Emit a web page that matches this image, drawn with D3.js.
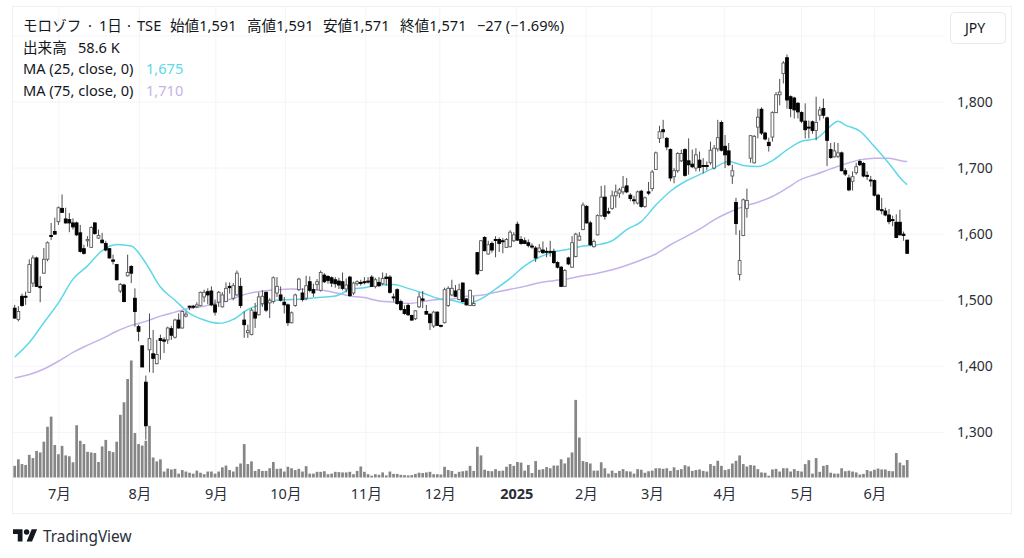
<!DOCTYPE html>
<html><head><meta charset="utf-8">
<script src="https://cdn.jsdelivr.net/npm/d3@7/dist/d3.min.js"></script>
<style>
html,body{margin:0;padding:0;background:#fff;overflow:hidden}
svg{display:block}
text{font-family:"Noto Sans","Noto Sans CJK JP",sans-serif;fill:#131722}
</style></head><body><svg id="c" width="1024" height="558"></svg>
<script>
const open=[1488,1471,1506,1506,1512,1526,1564,1521,1541,1562,1598,1604,1619,1639,1623,1622,1617,1617,1602,1578,1590,1580,1617,1594,1591,1586,1578,1561,1554,1514,1523,1537,1551,1503,1460,1431,1376,1425,1419,1404,1442,1440,1440,1457,1444,1470,1458,1476,1491,1491,1490,1492,1505,1513,1514,1493,1497,1490,1498,1521,1503,1508,1521,1470,1451,1448,1482,1478,1495,1512,1496,1498,1511,1508,1497,1493,1466,1492,1516,1511,1503,1528,1516,1524,1515,1538,1536,1534,1531,1529,1528,1517,1535,1511,1525,1527,1528,1529,1535,1521,1527,1525,1535,1535,1505,1516,1498,1486,1492,1477,1472,1490,1502,1483,1479,1461,1482,1462,1466,1492,1508,1514,1501,1526,1502,1492,1492,1572,1545,1595,1570,1586,1592,1592,1590,1580,1581,1590,1615,1592,1590,1587,1582,1579,1574,1576,1574,1574,1574,1557,1550,1521,1564,1550,1566,1591,1607,1642,1617,1581,1599,1628,1656,1634,1639,1658,1662,1664,1673,1659,1652,1647,1665,1642,1664,1669,1698,1745,1758,1745,1728,1687,1696,1711,1728,1711,1706,1700,1712,1704,1704,1708,1700,1729,1769,1733,1726,1688,1648,1539,1598,1639,1715,1708,1762,1789,1753,1739,1747,1784,1811,1843,1867,1808,1806,1798,1784,1771,1762,1770,1757,1780,1790,1776,1728,1717,1718,1723,1696,1685,1680,1693,1710,1707,1689,1682,1681,1659,1637,1635,1629,1622,1618,1618,1600,1591];
const high=[1493,1491,1510,1513,1562,1568,1566,1536,1579,1589,1617,1625,1642,1660,1640,1632,1624,1619,1614,1584,1597,1612,1618,1607,1602,1590,1579,1569,1555,1526,1525,1569,1553,1518,1463,1432,1386,1480,1455,1440,1448,1444,1460,1461,1472,1480,1484,1483,1492,1493,1497,1513,1516,1518,1521,1501,1514,1512,1527,1527,1526,1545,1534,1483,1463,1488,1496,1512,1515,1513,1503,1536,1535,1521,1505,1495,1483,1510,1534,1518,1537,1536,1525,1532,1545,1541,1538,1536,1535,1534,1542,1533,1537,1528,1530,1531,1535,1535,1538,1534,1535,1542,1541,1538,1510,1518,1501,1492,1495,1478,1485,1512,1514,1493,1480,1484,1483,1463,1519,1521,1531,1523,1525,1527,1503,1516,1506,1573,1591,1597,1590,1589,1597,1595,1594,1594,1606,1603,1619,1597,1595,1592,1586,1582,1585,1589,1580,1590,1578,1559,1552,1547,1566,1597,1602,1603,1648,1644,1620,1592,1630,1673,1674,1640,1666,1675,1670,1688,1685,1662,1658,1666,1667,1657,1679,1697,1725,1764,1773,1747,1730,1700,1724,1728,1730,1745,1728,1730,1725,1715,1710,1740,1735,1773,1772,1750,1738,1705,1655,1606,1654,1669,1750,1750,1790,1792,1755,1746,1786,1815,1835,1862,1872,1810,1808,1800,1786,1798,1772,1772,1808,1793,1805,1778,1738,1739,1738,1725,1700,1690,1695,1708,1713,1709,1695,1688,1683,1661,1655,1640,1638,1628,1630,1637,1604,1591];
const low=[1472,1468,1490,1493,1511,1520,1520,1497,1540,1559,1591,1599,1614,1632,1616,1603,1607,1597,1572,1569,1581,1580,1599,1593,1586,1574,1563,1554,1530,1511,1497,1536,1526,1460,1438,1399,1289,1391,1390,1403,1410,1420,1434,1440,1442,1457,1457,1474,1485,1487,1488,1491,1497,1494,1491,1477,1490,1489,1497,1510,1500,1507,1488,1443,1443,1447,1458,1477,1490,1482,1473,1495,1505,1498,1480,1461,1465,1490,1514,1498,1500,1512,1505,1515,1513,1526,1525,1520,1519,1517,1515,1512,1505,1508,1522,1522,1524,1525,1520,1518,1520,1523,1522,1510,1498,1493,1484,1478,1476,1469,1470,1488,1488,1478,1455,1458,1461,1459,1465,1490,1506,1505,1500,1497,1492,1491,1491,1538,1544,1574,1569,1572,1565,1573,1571,1579,1580,1588,1590,1584,1585,1580,1578,1558,1572,1570,1565,1566,1555,1548,1520,1520,1553,1549,1565,1590,1606,1616,1582,1580,1598,1626,1622,1630,1637,1640,1655,1660,1662,1650,1645,1645,1640,1640,1659,1665,1697,1738,1745,1727,1680,1677,1693,1709,1687,1690,1700,1695,1695,1692,1697,1705,1698,1725,1725,1700,1703,1676,1599,1530,1597,1625,1708,1707,1745,1750,1742,1725,1740,1783,1795,1828,1790,1777,1775,1775,1768,1745,1745,1752,1742,1772,1775,1703,1714,1716,1715,1695,1688,1665,1666,1690,1703,1686,1682,1672,1657,1635,1630,1627,1615,1612,1594,1598,1590,1571];
const close=[1473,1483,1492,1505,1554,1564,1521,1519,1562,1587,1597,1600,1640,1633,1617,1617,1611,1599,1574,1571,1592,1610,1601,1598,1587,1576,1564,1559,1531,1524,1498,1542,1541,1483,1453,1399,1310,1442,1412,1418,1439,1438,1458,1447,1470,1458,1483,1479,1490,1490,1493,1512,1512,1508,1493,1482,1512,1508,1518,1519,1522,1541,1492,1463,1454,1485,1473,1505,1506,1485,1500,1534,1521,1500,1493,1466,1481,1508,1532,1501,1522,1515,1511,1528,1542,1528,1530,1526,1525,1523,1518,1523,1507,1526,1528,1526,1527,1528,1521,1531,1522,1533,1533,1512,1504,1495,1486,1480,1478,1470,1484,1505,1500,1479,1466,1482,1462,1461,1516,1518,1518,1506,1516,1498,1493,1515,1495,1540,1590,1575,1584,1576,1591,1586,1589,1592,1603,1599,1591,1586,1586,1583,1581,1564,1579,1572,1573,1573,1557,1550,1521,1545,1555,1587,1600,1597,1644,1617,1584,1589,1628,1656,1627,1632,1658,1664,1667,1671,1664,1654,1651,1664,1642,1655,1662,1694,1723,1755,1755,1732,1685,1696,1722,1722,1689,1705,1702,1720,1701,1703,1703,1727,1730,1746,1727,1720,1705,1696,1616,1560,1652,1651,1749,1748,1777,1753,1744,1734,1784,1811,1815,1859,1803,1790,1788,1785,1771,1758,1761,1757,1769,1788,1780,1742,1716,1726,1723,1696,1691,1667,1687,1702,1705,1688,1688,1681,1659,1637,1636,1629,1619,1621,1595,1599,1598,1571];
const volume=[39,61,45,42,76,65,89,84,120,170,204,109,78,106,74,71,51,175,123,112,86,84,82,52,104,126,89,85,120,210,252,330,392,149,112,107,123,173,67,54,61,20,30,27,29,13,25,20,16,13,23,16,11,20,20,13,20,34,40,25,20,36,47,112,45,54,22,28,22,22,31,52,29,30,20,36,31,25,29,20,38,13,13,19,19,21,11,13,19,18,
17,17,19,11,22,37,19,11,6,11,9,17,7,20,12,12,9,8,7,8,12,16,15,17,19,11,11,10,36,25,22,12,19,21,23,39,22,103,74,26,22,21,28,22,23,36,45,39,52,50,23,42,15,55,26,28,35,31,40,40,61,47,67,84,260,134,55,52,47,23,23,51,31,13,23,15,22,28,21,20,13,28,26,16,21,23,31,31,29,31,22,34,25,
28,41,37,22,25,27,22,20,45,39,56,39,25,28,47,56,74,45,37,42,40,28,17,16,6,27,29,20,31,31,20,28,22,20,45,58,13,65,19,39,42,16,13,13,31,21,23,20,17,10,12,25,21,26,30,27,27,22,21,82,50,41,58.6];
const ma25=[1414,1436,1466,1496,1532,1552,1575,1584.5,1582,1556,1520,1500,1480,1470,1465,1471,1486,1494,1500,1501,1502.4,1504.4,1506.4,1516,1519,1523,1524,1518,1511,1503,1500,1495,1502,1517,1533,1552,1565,1573,1577,1582,1584,1590,1607,1619,1644,1665,1679.7,1690,1700.3,1710,1704,1702.3,1711.4,1727.5,1740.6,1744.6,1763.8,1771,1765,1756,1732.5,1707,1679.7,1675];
const ma25Idx=[0,4,8,12,16,20,24,28,32,36,40,44,48,52,56,60,64,68,72,76,80,84,88,92,96,100,104,108,112,116,120,124,128,132,136,140,144,148,152,156,160,164,168,172,176,180,184,188,192,196,200,204,208,212,216,220,224,226,228,232,236,240,244,245];
const ma75=[1382.5,1387.5,1396,1407.7,1421,1432,1442,1453,1462,1468,1476,1482,1488,1491,1497,1503,1510,1514,1516,1517,1516.5,1515.5,1511.5,1506.5,1504,1499,1497,1495,1498,1501,1502,1506,1507.5,1512,1516.5,1521,1526.6,1529.6,1532.6,1537,1540.7,1546,1553,1561,1570,1584,1595.5,1607.6,1621.7,1632.8,1641.9,1648.4,1657,1669.6,1683.2,1690.7,1698.8,1706.4,1712.4,1715,1715,1710.4,1710];
const ma75Idx=[0,4,8,12,16,20,24,28,32,36,40,44,48,52,56,60,64,68,72,76,80,84,88,92,96,100,104,108,112,116,120,124,128,132,136,140,144,148,152,156,160,164,168,172,176,180,184,188,192,196,200,204,208,212,216,220,224,228,232,236,240,244,245];
const priceTicks=[1300,1400,1500,1600,1700,1800];
const gridPrices=[1300,1400,1500,1600,1700,1800,1900];
const monthIdx=[12.1,34.2,55.2,74.3,96.4,116.7,137.7,156.8,174.9,194.8,216,236];
const monthLabels=["7月","8月","9月","10月","11月","12月","2025","2月","3月","4月","5月","6月"];

const svg=d3.select("#c");
const n=close.length;
const x=d3.scaleLinear().domain([0,n-1]).range([14.7,907.2]);
const y=d3.scaleLinear().domain([1300,1800]).range([432.4,102]);
const yv=d3.scaleLinear().domain([0,400]).range([477.5,358.1]);
const grid="#f3f4f8";

svg.append("rect").attr("x",12.5).attr("y",6.5).attr("width",999).attr("height",507).attr("fill","#fff").attr("stroke","#f0f1f5");
svg.append("g").selectAll("line").data(gridPrices).join("line")
 .attr("x1",13).attr("x2",945).attr("y1",d=>y(d)).attr("y2",d=>y(d)).attr("stroke",grid);
svg.append("g").selectAll("line").data(monthIdx).join("line")
 .attr("x1",d=>x(d)).attr("x2",d=>x(d)).attr("y1",7).attr("y2",480).attr("stroke",grid);

// volume
svg.append("g").selectAll("rect").data(volume).join("rect")
 .attr("x",(d,i)=>x(i)-1.35).attr("width",2.7)
 .attr("y",d=>yv(d)).attr("height",d=>yv(0)-yv(d)).attr("fill","#868686");

// moving averages
const mkLine=ix=>d3.line().x((d,k)=>x(ix[k])).y(d=>y(d)).curve(d3.curveMonotoneX);
svg.append("path").attr("d",mkLine(ma75Idx)(ma75)).attr("fill","none").attr("stroke","#c5b2e9").attr("stroke-width",1.5);
svg.append("path").attr("d",mkLine(ma25Idx)(ma25)).attr("fill","none").attr("stroke","#5ed8e8").attr("stroke-width",1.5);

// candles
const idx=d3.range(n);
svg.append("g").selectAll("line").data(idx).join("line")
 .attr("x1",i=>x(i)).attr("x2",i=>x(i)).attr("y1",i=>y(high[i])).attr("y2",i=>y(low[i]))
 .attr("stroke","#3a3a3a").attr("stroke-width",.9);
svg.append("g").selectAll("rect").data(idx).join("rect")
 .attr("x",i=>x(i)-1.4).attr("width",2.8)
 .attr("y",i=>y(Math.max(open[i],close[i])))
 .attr("height",i=>Math.max(1,Math.abs(y(open[i])-y(close[i]))))
 .attr("fill",i=>close[i]>=open[i]?"#fff":"#000")
 .attr("stroke",i=>close[i]>=open[i]?"#5a5a5a":"#000").attr("stroke-width",.9);

// axes
const ay=d3.axisRight(y).tickValues(priceTicks).tickFormat(d3.format(",")).tickSize(0).tickPadding(0);
const gy=svg.append("g").attr("transform","translate(957,0)").call(ay);
gy.select(".domain").remove();
gy.selectAll("text").style("font-size","14px").style("fill","#2a2e39").attr("x",0);
const ax=d3.axisBottom(x).tickValues(monthIdx).tickFormat((d,i)=>monthLabels[i]).tickSize(0).tickPadding(0);
const gx=svg.append("g").attr("transform","translate(0,489)").call(ax);
gx.select(".domain").remove();
gx.selectAll("text").style("font-size","14.5px").style("fill","#2a2e39")
 .style("font-weight",(d,i)=>monthLabels[i]==="2025"?"700":"400");

// legend
const headerText=["モロゾフ","·","1日","·","TSE","始値1,591","高値1,591","安値1,571","終値1,571","−27 (−1.69%)"];
const headerX=[23,88,99,127,137,170,247,323,400,477];
const leg=svg.append("g").style("font-size","14.6px");
leg.selectAll("text.h").data(headerText).join("text").attr("class","h")
 .attr("x",(d,i)=>headerX[i]).attr("y",31).text(d=>d);
leg.append("text").attr("x",23).attr("y",53).text("出来高");
leg.append("text").attr("x",78).attr("y",53).text("58.6 K");
leg.append("text").attr("x",23).attr("y",74).text("MA (25, close, 0)");
leg.append("text").attr("x",146).attr("y",74).style("fill","#5ed8e8").text("1,675");
leg.append("text").attr("x",23).attr("y",96).text("MA (75, close, 0)");
leg.append("text").attr("x",146).attr("y",96).style("fill","#c5b2e9").text("1,710");

// currency button
svg.append("rect").attr("x",950.5).attr("y",12.5).attr("width",55).attr("height",31).attr("rx",4).attr("fill","#fff").attr("stroke","#e8e9ee");
svg.append("text").attr("x",975).attr("y",33).attr("text-anchor","middle").style("font-size","14px").text("JPY");

// logo
const logo=svg.append("g").attr("transform","translate(13,526.5) scale(.68)");
logo.append("path").attr("fill","#131722").attr("d","M14 22H7V11H0V4h14v18zM28 22h-8l7.5-18h8L28 22z");
logo.append("circle").attr("cx",20).attr("cy",8).attr("r",4).attr("fill","#131722");
svg.append("text").attr("x",43).attr("y",541.5).style("font-size","15.4px").style("fill","#2a2e39").text("TradingView");
</script></body></html>
